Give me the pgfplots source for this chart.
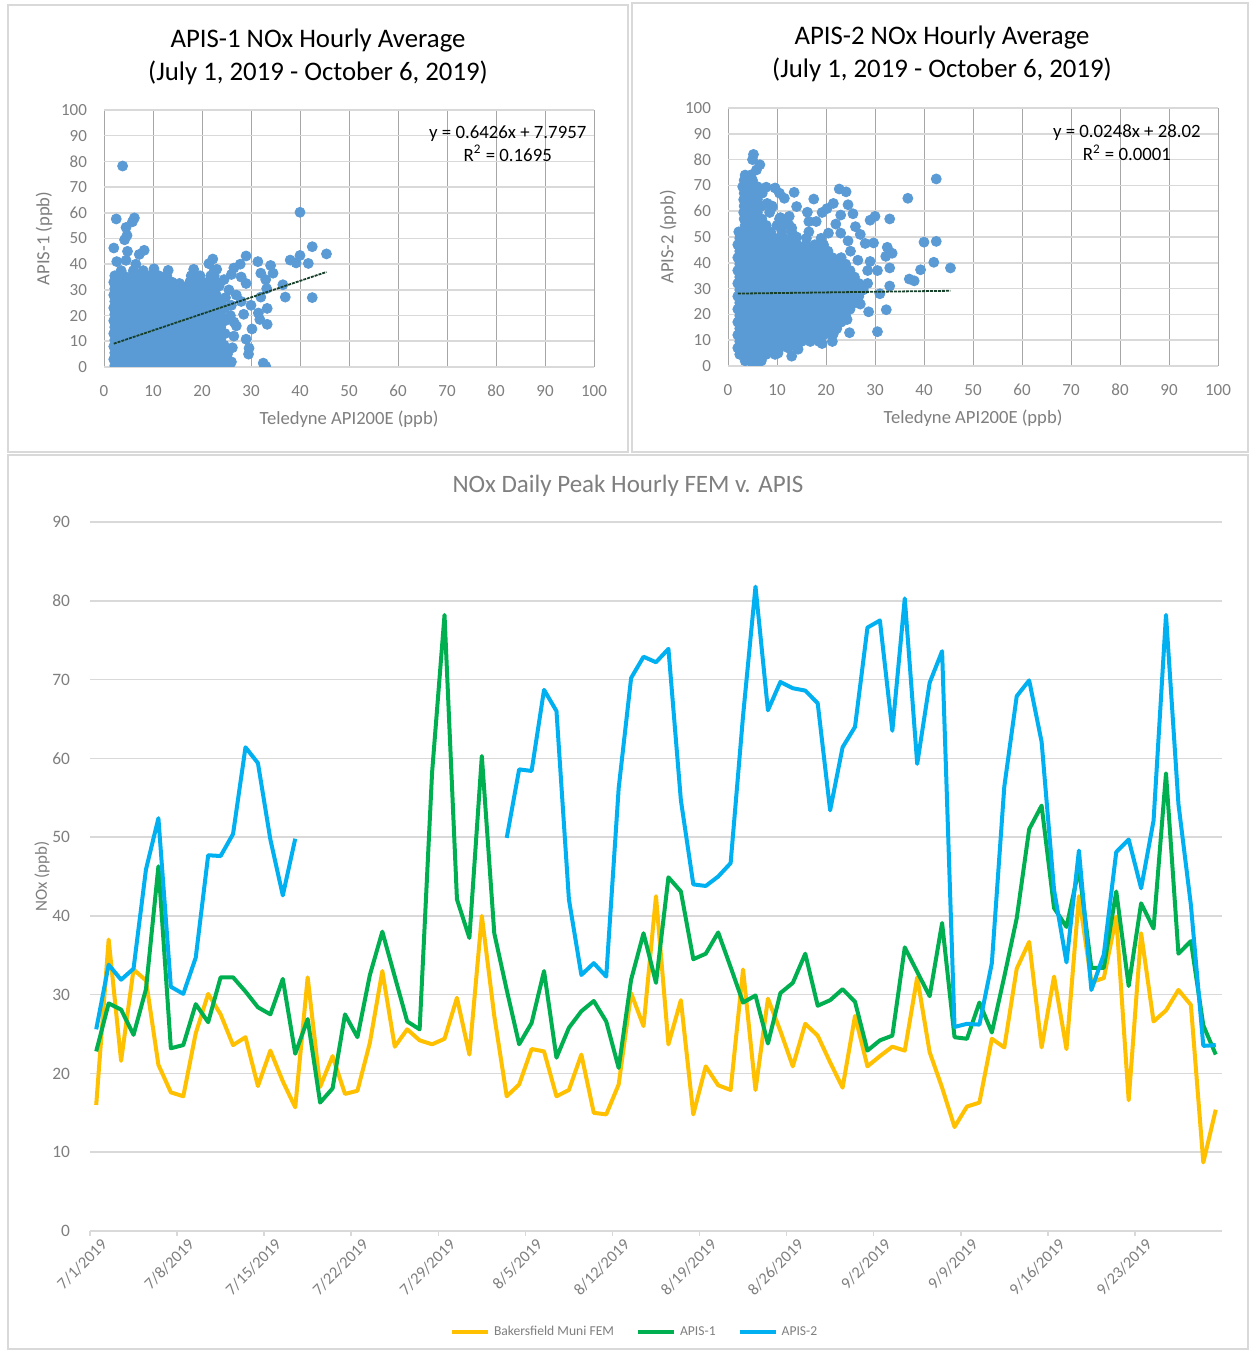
\documentclass[border=0pt]{standalone}
\usepackage{pgfplots}
\usepackage{pgfplotstable}
\pgfplotsset{compat=1.18}
\usepackage{fontspec}
\setmainfont{Carlito}
\definecolor{ptblue}{HTML}{5B9BD5}
\definecolor{fem}{HTML}{FFC000}
\definecolor{apisone}{HTML}{00B050}
\definecolor{apistwo}{HTML}{00B0F0}
\definecolor{txtgray}{HTML}{7F7F7F}
\definecolor{gridgray}{HTML}{D9D9D9}
\definecolor{vgrid}{HTML}{A6A6A6}
\definecolor{trend}{HTML}{17402A}

\pgfplotstableread{
x fem apis1 apis2
0.5 16.0 22.8 25.6
1.5 37.0 28.9 33.8
2.5 21.6 28.1 31.9
3.5 33.2 24.9 33.3
4.5 31.8 30.7 45.9
5.5 21.1 46.3 52.4
6.5 17.6 23.2 31.0
7.5 17.1 23.6 30.1
8.5 25.1 28.8 34.7
9.5 30.1 26.5 47.7
10.5 27.5 32.2 47.6
11.5 23.6 32.2 50.4
12.5 24.6 30.4 61.4
13.5 18.4 28.4 59.4
14.5 22.9 27.5 49.7
15.5 19.0 32.0 42.6
16.5 15.7 22.5 49.8
17.5 32.2 26.9 nan
18.5 18.3 16.3 nan
19.5 22.2 18.1 nan
20.5 17.4 27.5 nan
21.5 17.8 24.6 nan
22.5 23.9 32.5 nan
23.5 33.0 38.0 nan
24.5 23.4 32.3 nan
25.5 25.6 26.6 nan
26.5 24.2 25.6 nan
27.5 23.7 58.2 nan
28.5 24.4 78.2 nan
29.5 29.6 42.1 nan
30.5 22.4 37.2 nan
31.5 40.0 60.3 nan
32.5 27.3 37.8 nan
33.5 17.1 30.6 49.9
34.5 18.6 23.7 58.6
35.5 23.1 26.4 58.4
36.5 22.8 33.0 68.7
37.5 17.1 22.0 66.0
38.5 17.9 25.8 42.1
39.5 22.4 27.9 32.5
40.5 15.0 29.2 34.0
41.5 14.8 26.6 32.3
42.5 18.6 20.7 56.2
43.5 30.2 31.9 70.2
44.5 26.0 37.8 72.9
45.5 42.5 31.5 72.2
46.5 23.7 44.9 73.9
47.5 29.3 43.1 54.7
48.5 14.8 34.5 44.0
49.5 20.9 35.2 43.8
50.5 18.5 37.9 45.0
51.5 17.9 33.5 46.7
52.5 33.2 29.0 65.4
53.5 17.9 29.9 81.8
54.5 29.5 23.8 66.1
55.5 25.4 30.2 69.7
56.5 20.9 31.5 68.9
57.5 26.3 35.2 68.6
58.5 24.8 28.6 67.0
59.5 21.4 29.3 53.4
60.5 18.2 30.7 61.4
61.5 27.3 29.1 64.0
62.5 20.9 22.9 76.6
63.5 22.2 24.2 77.5
64.5 23.4 24.8 63.5
65.5 22.9 36.0 80.3
66.5 32.2 32.9 59.3
67.5 22.7 29.8 69.6
68.5 18.2 39.1 73.6
69.5 13.2 24.6 25.9
70.5 15.8 24.4 26.3
71.5 16.3 29.0 26.2
72.5 24.4 25.2 34.0
73.5 23.3 32.3 56.4
74.5 33.3 39.7 67.9
75.5 36.7 51.0 69.9
76.5 23.3 54.0 62.1
77.5 32.3 41.0 43.3
78.5 23.1 38.6 34.1
79.5 42.5 46.0 48.3
80.5 31.6 33.4 30.6
81.5 32.1 33.4 35.1
82.5 39.9 43.1 48.1
83.5 16.6 31.1 49.7
84.5 37.8 41.6 43.5
85.5 26.6 38.4 52.1
86.5 28.0 58.1 78.2
87.5 30.6 35.2 54.2
88.5 28.7 36.8 41.4
89.5 8.7 26.1 23.5
90.5 15.4 22.4 23.6
}\dailytable

\pgfplotsset{
  scatterstyle/.style={
    scale only axis, width=245pt, height=128.5pt,
    xmin=0, xmax=100, ymin=0, ymax=100,
    xtick={0,10,...,100}, ytick={0,10,...,100},
    grid=major,
    x grid style={vgrid, line width=0.5pt},
    y grid style={gridgray, line width=0.8pt},
    axis line style={draw=none},
    major tick length=0pt,
    clip marker paths=true,
    /pgf/number format/assume math mode=true,
    tick label style={font=\fontsize{8.5}{10}\selectfont, text=txtgray},
    xticklabel style={yshift=-5.5pt},
    yticklabel style={xshift=-5pt},
    label style={font=\fontsize{9.3}{11}\selectfont, text=txtgray},
    xlabel style={at={(axis description cs:0.5,-0.202)}, anchor=center},
    ylabel style={at={(axis description cs:-0.1224,0.5)}, anchor=center},
  }
}

\begin{document}
\begin{tikzpicture}
\useasboundingbox (0,0) rectangle (624.5pt,675pt);
\fill[white] (0,0) rectangle (624.5pt,675pt);
% panel borders
\draw[gridgray, line width=1pt] (4pt,449pt) rectangle (314pt,672.5pt);
\draw[gridgray, line width=1pt] (316pt,449pt) rectangle (624pt,673.5pt);
\draw[gridgray, line width=1pt] (4pt,0.5pt) rectangle (624pt,447.5pt);

% titles
\node[align=center, font=\fontsize{13.4}{16.5}\selectfont, text=black] at (159pt,646.5pt)
  {APIS-1 NOx Hourly Average\\(July 1, 2019 - October 6, 2019)};
\node[align=center, font=\fontsize{13.4}{16.5}\selectfont, text=black] at (471pt,648pt)
  {APIS-2 NOx Hourly Average\\(July 1, 2019 - October 6, 2019)};
\node[font=\fontsize{12.5}{14}\selectfont, text=txtgray] at (314pt,432pt)
  {NOx Daily Peak Hourly FEM v. APIS};

% ---------------- APIS-1 scatter ----------------
\begin{axis}[scatterstyle, at={(52pt,491.5pt)}, anchor=south west,
  xlabel={Teledyne API200E (ppb)}, ylabel={APIS-1 (ppb)}]
\addplot[only marks, mark=*, mark size=2.5pt, color=ptblue] coordinates {
(2.2,0.5)(4.0,0.5)(5.8,0.5)(7.6,0.5)(9.4,0.5)(11.2,0.5)(13.0,0.5)(14.8,0.5)(16.6,0.5)(18.4,0.5)(20.2,0.5)(22.0,0.5)(23.8,0.5)(25.6,0.5)
(2.0,3)(3.1,3)(4.9,3)(6.7,3)(8.5,3)(10.3,3)(12.1,3)(13.9,3)(15.7,3)(17.5,3)(19.3,3)(21.1,3)(22.9,3)(24.7,3)(26.0,2)
(2.2,5.5)(4.0,5.5)(5.8,5.5)(7.6,5.5)(9.4,5.5)(11.2,5.5)(13.0,5.5)(14.8,5.5)(16.6,5.5)(18.4,5.5)(20.2,5.5)(22.0,5.5)(23.8,5.5)(25.2,5)
(2.0,8)(3.1,8)(4.9,8)(6.7,8)(8.5,8)(10.3,8)(12.1,8)(13.9,8)(15.7,8)(17.5,8)(19.3,8)(21.1,8)(22.9,8)(24.5,8.5)
(2.2,10.5)(4.0,10.5)(5.8,10.5)(7.6,10.5)(9.4,10.5)(11.2,10.5)(13.0,10.5)(14.8,10.5)(16.6,10.5)(18.4,10.5)(20.2,10.5)(22.0,10.5)(23.8,10.5)
(2.0,13)(3.1,13)(4.9,13)(6.7,13)(8.5,13)(10.3,13)(12.1,13)(13.9,13)(15.7,13)(17.5,13)(19.3,13)(21.1,13)(22.9,13)(24.7,13)
(2.2,15.5)(4.0,15.5)(5.8,15.5)(7.6,15.5)(9.4,15.5)(11.2,15.5)(13.0,15.5)(14.8,15.5)(16.6,15.5)(18.4,15.5)(20.2,15.5)(22.0,15.5)(23.8,15.5)
(2.0,18)(3.1,18)(4.9,18)(6.7,18)(8.5,18)(10.3,18)(12.1,18)(13.9,18)(15.7,18)(17.5,18)(19.3,18)(21.1,18)(22.9,18)(24.7,18)
(2.2,20.5)(4.0,20.5)(5.8,20.5)(7.6,20.5)(9.4,20.5)(11.2,20.5)(13.0,20.5)(14.8,20.5)(16.6,20.5)(18.4,20.5)(20.2,20.5)(22.0,20.5)(23.8,20.5)
(2.0,23)(3.1,23)(4.9,23)(6.7,23)(8.5,23)(10.3,23)(12.1,23)(13.9,23)(15.7,23)(17.5,23)(19.3,23)(21.1,23)(22.9,23)(24.7,23)
(2.2,25.5)(4.0,25.5)(5.8,25.5)(7.6,25.5)(9.4,25.5)(11.2,25.5)(13.0,25.5)(14.8,25.5)(16.6,25.5)(18.4,25.5)(20.2,25.5)(22.0,25.5)(23.8,25.5)
(2.0,28)(3.1,28)(4.9,28)(6.7,28)(8.5,28)(10.3,28)(12.1,28)(13.9,28)(15.7,28)(17.5,28)(19.3,28)(21.1,28)(22.9,28)
(2.2,30.5)(4.0,30.5)(5.8,30.5)(7.6,30.5)(9.4,30.5)(11.2,30.5)(13.0,30.5)(14.8,30.5)(16.6,30.5)(18.4,30.5)(20.2,30.5)(22.0,30.5)
(2.0,33)(3.1,33)(4.9,33)(6.7,33)(8.5,33)(10.3,33)(12.1,33)(13.9,33)(15.4,32.5)(17.5,33)(19.3,33)(21.1,33)(22.9,33)
(2.2,35.5)(4.0,35.5)(5.8,35.5)(7.6,35.5)(9.4,35.5)(11.2,35.5)(12.8,35.5)(17.8,35.5)(19.6,35.5)(21.8,35.5)
(3.5,37.5)(6.0,37.5)(8.0,37.5)(10.2,38.2)(13.1,37.6)(18.3,38.0)(22.5,37.5)
(3.8,78.2)(2.5,57.6)(6.2,58.0)(5.8,56.5)(4.5,54.3)(4.7,51.2)(4.2,49.5)(2.0,46.3)(4.8,45.0)(7.2,43.8)(8.2,45.4)
(2.6,41.0)(4.5,41.5)(6.5,40.0)(21.4,40.2)(22.2,42.0)(23.0,38.0)(22.5,35.5)(24.5,34.0)(26.0,36.0)(26.5,38.5)
(27.8,40.0)(29.0,43.2)(28.0,35.0)(29.0,32.5)(31.4,41.0)(32.0,36.5)(34.0,39.5)(34.5,36.5)(33.0,34.0)(33.2,30.5)
(32.0,27.2)(36.5,32.0)(37.0,27.2)(38.0,41.6)(39.2,40.5)(40.0,43.4)(40.0,60.2)(41.7,40.3)(42.5,46.8)(42.5,27.0)
(45.4,44.0)(30.0,24.0)(31.5,21.0)(33.3,22.8)(33.3,16.6)(31.8,18.5)(30.2,14.8)(29.0,10.8)(28.5,20.5)(27.0,16.0)
(26.5,12.0)(26.2,7.5)(29.6,7.3)(29.5,5.0)(32.5,1.5)(33.0,0.3)(26.0,24.0)(27.0,28.0)(25.5,30.0)(23.5,31.5)
(16.5,31.0)(25.8,20.0)(26.5,17.5)(24.8,27.0)(28.0,25.5)
};
\addplot[trend, line width=0.9pt, dash pattern=on 1.5pt off 0.5pt] coordinates {(2,9.08) (45.4,36.97)};
\node[font=\fontsize{9.4}{11.5}\selectfont, align=center, text=black] at (axis cs:82.4,87.0)
  {y = 0.6426x + 7.7957\\R\textsuperscript{2} = 0.1695};
\end{axis}

% ---------------- APIS-2 scatter ----------------
\begin{axis}[scatterstyle, at={(364pt,492pt)}, anchor=south west, height=129pt,
  xlabel={Teledyne API200E (ppb)}, ylabel={APIS-2 (ppb)}]
\addplot[only marks, mark=*, mark size=2.5pt, color=ptblue] coordinates {
(5.0,0.8)(6.0,0.8)(3.5,2.0)(4.0,2.8)(5.2,2.5)(6.8,2.0)
(2.4,4.5)(4.2,4.5)(6.0,4.5)(7.8,4.5)(9.6,4.5)(10.2,5.0)(13.0,3.8)(14.3,6.5)
(2.0,7)(3.3,7)(5.1,7)(6.9,7)(8.7,7)(10.5,7)(12.3,7)(14.1,7)
(2.4,9.5)(4.2,9.5)(6.0,9.5)(7.8,9.5)(9.6,9.5)(11.4,9.5)(13.2,9.5)(15.0,9.5)(16.8,9.5)(18.6,9.5)(19.2,8.7)(21.3,9.5)
(2.0,12)(3.3,12)(5.1,12)(6.9,12)(8.7,12)(10.5,12)(12.3,12)(14.1,12)(15.9,12)(17.7,12)(19.5,12)(21.3,12)(21.5,12.5)
(2.4,14.5)(4.2,14.5)(6.0,14.5)(7.8,14.5)(9.6,14.5)(11.4,14.5)(13.2,14.5)(15.0,14.5)(16.8,14.5)(18.6,14.5)(20.4,14.5)(22.2,14.5)
(2.0,17)(3.3,17)(5.1,17)(6.9,17)(8.7,17)(10.5,17)(12.3,17)(14.1,17)(15.9,17)(17.7,17)(19.5,17)(21.3,17)(23.1,17)
(2.4,19.5)(4.2,19.5)(6.0,19.5)(7.8,19.5)(9.6,19.5)(11.4,19.5)(13.2,19.5)(15.0,19.5)(16.8,19.5)(18.6,19.5)(20.4,19.5)(22.2,19.5)(24.0,19.5)
(2.0,22)(3.3,22)(5.1,22)(6.9,22)(8.7,22)(10.5,22)(12.3,22)(14.1,22)(15.9,22)(17.7,22)(19.5,22)(21.3,22)(23.1,22)(24.9,22)
(2.4,24.5)(4.2,24.5)(6.0,24.5)(7.8,24.5)(9.6,24.5)(11.4,24.5)(13.2,24.5)(15.0,24.5)(16.8,24.5)(18.6,24.5)(20.4,24.5)(22.2,24.5)(24.0,24.5)(25.8,24.5)
(2.0,27)(3.3,27)(5.1,27)(6.9,27)(8.7,27)(10.5,27)(12.3,27)(14.1,27)(15.9,27)(17.7,27)(19.5,27)(21.3,27)(23.1,27)(24.9,27)(26.7,27)
(2.4,29.5)(4.2,29.5)(6.0,29.5)(7.8,29.5)(9.6,29.5)(11.4,29.5)(13.2,29.5)(15.0,29.5)(16.8,29.5)(18.6,29.5)(20.4,29.5)(22.2,29.5)(24.0,29.5)(25.8,29.5)(27.6,29.5)
(2.0,32)(3.3,32)(5.1,32)(6.9,32)(8.7,32)(10.5,32)(12.3,32)(14.1,32)(15.9,32)(17.7,32)(19.5,32)(21.3,32)(23.1,32)(24.9,32)(26.7,32)
(2.4,34.5)(4.2,34.5)(6.0,34.5)(7.8,34.5)(9.6,34.5)(11.4,34.5)(13.2,34.5)(15.0,34.5)(16.8,34.5)(18.6,34.5)(20.4,34.5)(22.2,34.5)(24.0,34.5)(25.8,34.5)
(2.0,37)(3.3,37)(5.1,37)(6.9,37)(8.7,37)(10.5,37)(12.3,37)(14.1,37)(15.9,37)(17.7,37)(19.5,37)(21.3,37)(23.1,37)(24.9,37)
(2.4,39.5)(4.2,39.5)(6.0,39.5)(7.8,39.5)(9.6,39.5)(11.4,39.5)(13.2,39.5)(15.0,39.5)(16.8,39.5)(18.6,39.5)(20.4,39.5)(22.2,39.5)(24.0,39.5)
(2.0,42)(3.3,42)(5.1,42)(6.9,42)(8.7,42)(10.5,42)(12.3,42)(14.1,42)(15.9,42)(17.7,42)(19.5,42)(21.3,42)(23.1,42)
(2.4,44.5)(4.2,44.5)(6.0,44.5)(7.8,44.5)(9.6,44.5)(11.4,44.5)(13.2,44.5)(15.0,44.5)(16.8,44.5)(18.6,44.5)(20.4,44.5)
(2.0,47)(3.3,47)(5.1,47)(6.9,47)(8.7,47)(10.5,47)(12.3,47)(14.1,47)(15.9,47)(17.7,47)(19.5,47)
(2.4,49.5)(4.2,49.5)(6.0,49.5)(7.8,49.5)(9.6,49.5)(11.4,49.5)(13.2,49.5)(16.0,49.5)(19.0,49.5)
(2.2,52)(3.3,52)(5.1,52)(6.9,52)(8.7,52)(11.0,52)(13.0,52)(16.5,52)
(3.5,54.5)(4.2,54.5)(6.0,54.5)(7.8,54.5)(10.0,54.5)(12.5,54.5)
(3.3,57)(5.1,57)(6.9,57)(10.5,57)(12.0,57)
(3.2,59.5)(4.2,59.5)(6.0,59.5)(8.5,59.5)
(3.3,62)(5.1,62)(6.9,62)(9.0,62)
(3.2,64.5)(4.2,64.5)(6.0,64.5)
(3.3,67)(5.1,67)(7.0,67)
(3.0,69.5)(4.5,69.5)(6.0,69.5)
(3.3,72)(5.0,72)(3.5,74)(4.6,74)
(5.2,82.0)(5.0,80.0)(6.5,78.0)(5.8,76.0)(7.8,69.3)(9.6,69.0)(10.5,67.0)(11.5,65.0)(13.5,67.3)(14.0,61.8)
(12.5,58.0)(10.7,57.5)(9.0,61.5)(8.0,63.0)(11.5,55.0)(13.0,53.5)(14.0,50.0)(16.2,59.6)(17.5,64.7)(19.2,59.5)
(20.2,61.0)(21.5,63.0)(16.5,56.0)(18.0,56.0)(22.7,68.6)(24.1,67.5)(24.5,62.5)(23.0,58.5)(25.5,59.0)(26.0,54.0)
(27.0,51.0)(28.0,47.5)(22.0,55.0)(20.5,51.5)(23.0,51.5)(24.5,48.5)(29.0,56.5)(30.0,58.0)(33.0,57.0)(29.7,47.7)
(32.5,46.0)(33.5,43.7)(32.2,42.5)(29.0,40.5)(30.5,37.0)(33.0,38.0)(33.0,31.0)(31.0,28.0)(32.3,21.8)(30.5,13.3)
(24.8,12.9)(24.3,18.0)(28.7,21.0)(27.0,24.0)(26.5,28.0)(28.5,32.0)(28.5,37.0)(26.5,41.0)(25.0,44.5)
(36.7,65.0)(37.0,33.7)(38.0,33.0)(39.3,37.3)(40.0,48.0)(42.0,40.2)(42.5,48.3)(42.5,72.5)(45.4,38.0)
};
\addplot[trend, line width=0.9pt, dash pattern=on 1.5pt off 0.5pt] coordinates {(2,28.07) (45.4,29.15)};
\node[font=\fontsize{9.4}{11.5}\selectfont, align=center, text=black] at (axis cs:81.4,86.4)
  {y = 0.0248x + 28.02\\R\textsuperscript{2} = 0.0001};
\end{axis}

% ---------------- Daily peak line chart ----------------
\begin{axis}[
  at={(45pt,59.5pt)}, anchor=south west,
  scale only axis, width=566pt, height=354.5pt,
  xmin=0, xmax=91, ymin=0, ymax=90,
  xtick={0,7,...,84},
  xticklabels={7/1/2019,7/8/2019,7/15/2019,7/22/2019,7/29/2019,8/5/2019,8/12/2019,8/19/2019,8/26/2019,9/2/2019,9/9/2019,9/16/2019,9/23/2019},
  ytick={0,10,...,90},
  ymajorgrids, y grid style={gridgray, line width=0.8pt},
  axis line style={draw=none},
  xtick pos=lower, ytick style={draw=none},
  xtick style={gridgray, line width=0.8pt},
  tick align=outside, major tick length=2.5pt,
  /pgf/number format/assume math mode=true,
  yticklabel style={font=\fontsize{8.7}{10}\selectfont, text=txtgray, xshift=-4pt},
  xticklabel style={font=\fontsize{8.2}{10}\selectfont, text=txtgray, rotate=45, anchor=north east, inner sep=1pt, xshift=4pt, yshift=-3pt},
  ylabel={NOx (ppb)},
  ylabel style={font=\fontsize{8.5}{10}\selectfont, text=txtgray, at={(axis description cs:-0.0424,0.5)}, anchor=center},
  unbounded coords=jump,
  legend style={at={(0.482,-0.143)}, anchor=center, draw=none, fill=none,
    legend columns=3, font=\fontsize{6.8}{8}\selectfont, text=txtgray,
    /tikz/every even column/.append style={column sep=9pt}},
  legend image code/.code={\draw[#1] (0pt,0pt) -- (18pt,0pt);},
]
\draw[gridgray, line width=0.8pt] (axis cs:0,0) -- (axis cs:91,0);
\addplot[fem, line width=2pt, line join=round] table[x=x, y=fem] {\dailytable};
\addlegendentry{Bakersfield Muni FEM}
\addplot[apisone, line width=2pt, line join=round] table[x=x, y=apis1] {\dailytable};
\addlegendentry{APIS-1}
\addplot[apistwo, line width=2pt, line join=round] table[x=x, y=apis2] {\dailytable};
\addlegendentry{APIS-2}
\end{axis}
\end{tikzpicture}
\end{document}
